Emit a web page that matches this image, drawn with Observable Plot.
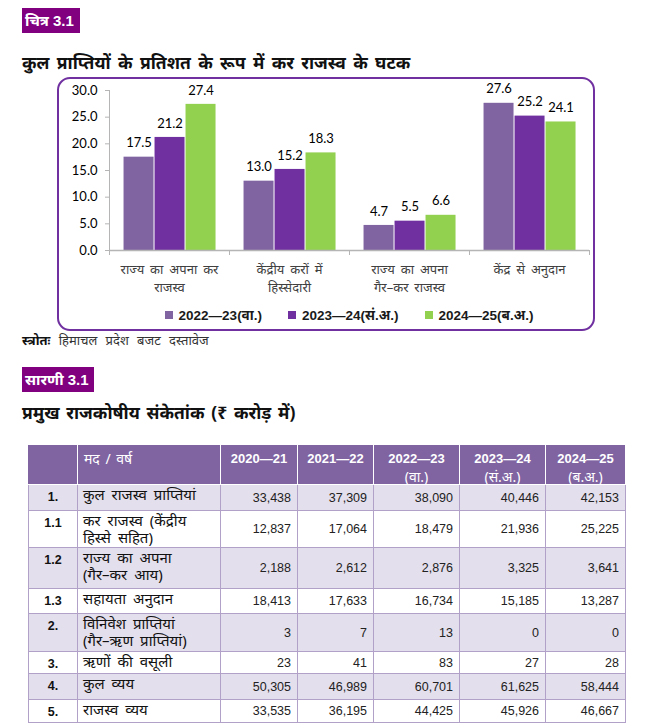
<!DOCTYPE html>
<html>
<head>
<meta charset="utf-8">
<script src="https://cdn.jsdelivr.net/npm/d3@7"></script>
<script src="https://cdn.jsdelivr.net/npm/@observablehq/plot@0.6"></script>
<style>
  html, body { margin: 0; padding: 0; background: #fff; }
  body { position: relative; width: 649px; height: 725px; overflow: hidden; font-family: "Noto Sans", "Liberation Sans", sans-serif; color: #111; }
  .tag { position: absolute; background: #800080; color: #fff; font-family: "Liberation Sans", "Noto Sans", sans-serif; font-weight: bold; font-size: 15px; height: 25px; line-height: 25px; padding: 0 3px; box-sizing: border-box; white-space: nowrap; }
  .title { position: absolute; left: 22px; font-weight: bold; font-size: 17.5px; word-spacing: 2.8px; white-space: nowrap; color: #111; }
  #frame { position: absolute; left: 57px; top: 77px; width: 538px; height: 254px; border: 2px solid #7030A0; border-radius: 13px; box-sizing: border-box; }
  #chart { position: absolute; left: 57px; top: 77px; }
  #chart svg text { word-spacing: 2.5px; }
  #legend { position: absolute; left: 109px; width: 480px; top: 306px; display: flex; justify-content: center; gap: 26px; font-family: "Liberation Sans", "Noto Sans", sans-serif; font-weight: bold; font-size: 13.5px; color: #1a1a1a; }
  #legend .item { display: flex; align-items: center; gap: 6px; white-space: nowrap; }
  #legend .sw { width: 8px; height: 8px; display: inline-block; }
  #source { position: absolute; left: 22px; top: 331px; font-size: 13px; word-spacing: 5px; color: #333; white-space: nowrap; }
  #source b { color: #111; }
  table { position: absolute; left: 28px; top: 445px; border-collapse: collapse; table-layout: fixed; font-family: "Liberation Sans", "Noto Sans", sans-serif; }
  td, th { border: 1px solid #B1A0C7; padding: 0; overflow: hidden; }
  th { background: #8064A2; color: #fff; border-color: #fff; border-top-color: #8064A2; vertical-align: top; font-size: 13px; font-weight: bold; line-height: 15px; padding-top: 5px; text-align: center; }
  th.item { text-align: left; padding-left: 6px; font-weight: normal; font-family: "Noto Sans", sans-serif; font-size: 14px; word-spacing: 2px; }
  th .note { font-weight: normal; font-family: "Noto Sans", "Liberation Sans", sans-serif; font-size: 14px; margin-top: 3px; line-height: 15px; }
  td.num { text-align: center; vertical-align: top; font-weight: bold; font-size: 12.5px; padding-top: 5px; }
  td.lbl { text-align: left; vertical-align: top; font-size: 15px; line-height: 17px; word-spacing: 3px; padding-left: 5px; padding-top: 1px; white-space: pre; font-family: "Noto Sans", sans-serif; }
  td.val { text-align: right; vertical-align: middle; font-size: 12.5px; padding-right: 6px; color: #222; }
  tr.band td { background: #E4DFEC; }
</style>
</head>
<body>
<div class="tag" style="left:22px; top:8px; width:58px;">चित्र 3.1</div>
<div class="title" style="top:50px;">कुल प्राप्तियों के प्रतिशत के रूप में कर राजस्व के घटक</div>
<div id="frame"></div>
<div id="chart"></div>
<div id="legend"></div>
<div id="source"><b>स्त्रोतः</b> हिमाचल प्रदेश बजट दस्तावेज</div>
<div class="tag" style="left:22px; top:367px; width:72px;">सारणी 3.1</div>
<div class="title" style="top:400px; word-spacing: 2.2px;">प्रमुख राजकोषीय संकेतांक (₹ करोड़ में)</div>
<div id="tablewrap"></div>
<script>
// ---------- chart data ----------
const categories = ["राज्य का अपना कर राजस्व", "केंद्रीय करों में हिस्सेदारी", "राज्य का अपना गैर–कर राजस्व", "केंद्र से अनुदान"];
const categoryLabels = ["राज्य का अपना कर\nराजस्व", "केंद्रीय करों में\nहिस्सेदारी", "राज्य का अपना\nगैर–कर राजस्व", "केंद्र से अनुदान"];
const series = ["2022—23(वा.)", "2023—24(सं.अ.)", "2024—25(ब.अ.)"];
const values2022_23 = [17.5, 13.0, 4.7, 27.6];
const values2023_24 = [21.2, 15.2, 5.5, 25.2];
const values2024_25 = [27.4, 18.3, 6.6, 24.1];
const yTicks = [0, 5, 10, 15, 20, 25, 30];

// ---------- table data ----------
const tableYears = ["2020—21", "2021—22", "2022—23", "2023—24", "2024—25"];
const tableYearNotes = ["", "", "(वा.)", "(सं.अ.)", "(ब.अ.)"];
const rowNumbers = ["1.", "1.1", "1.2", "1.3", "2.", "3.", "4.", "5."];
const rowItems = ["कुल राजस्व प्राप्तियां", "कर राजस्व (केंद्रीय\nहिस्से सहित)", "राज्य का अपना\n(गैर–कर आय)", "सहायता अनुदान", "विनिवेश प्राप्तियां\n(गैर–ऋण प्राप्तियां)", "ऋणों की वसूली", "कुल व्यय", "राजस्व व्यय"];
const col2020_21 = [33438, 12837, 2188, 18413, 3, 23, 50305, 33535];
const col2021_22 = [37309, 17064, 2612, 17633, 7, 41, 46989, 36195];
const col2022_23 = [38090, 18479, 2876, 16734, 13, 83, 60701, 44425];
const col2023_24 = [40446, 21936, 3325, 15185, 0, 27, 61625, 45926];
const col2024_25 = [42153, 25225, 3641, 13287, 0, 28, 58444, 46667];

// ---------- styles / layout ----------
const seriesColors = ["#8064A2", "#7030A0", "#92D050"];
const groupPad = 0.117, barW = 0.2583;
const colWidths = [49, 143, 77, 76, 86, 86, 80];
const headerHeight = 39;
const rowHeights = [26, 37, 41, 25, 38, 22, 26, 23];

// ---------- chart ----------
const seriesValues = [values2022_23, values2023_24, values2024_25];
const bars = categories.flatMap((c, i) => series.map((s, j) => ({
  category: c, series: s, value: seriesValues[j][i],
  x1: i + groupPad + j * barW, x2: i + groupPad + (j + 1) * barW
})));

const chart = Plot.plot({
  width: 538, height: 225,
  marginLeft: 52, marginRight: 6, marginTop: 13, marginBottom: 52,
  style: { fontFamily: "Lato, 'Noto Sans', sans-serif", fontSize: "13px", background: "transparent", color: "#000", overflow: "visible" },
  x: { domain: [0, categories.length], axis: null },
  y: { domain: [0, 30], axis: null },
  color: { domain: series, range: seriesColors },
  marks: [
    Plot.rectY(bars, { x1: "x1", x2: "x2", y: "value", fill: "series", insetLeft: 0.5, insetRight: 0.5 }),
    Plot.ruleY([0], { stroke: "#b5b5b5", strokeWidth: 1.5 }),
    Plot.ruleX([0], { stroke: "#b5b5b5", strokeWidth: 1 }),
    Plot.axisY({ ticks: yTicks, tickFormat: d => d.toFixed(1), tickSize: 4, tickPadding: 8, stroke: "#b5b5b5", fill: "#000", fontSize: 13, label: null }),
    Plot.axisX({ ticks: d3.range(categories.length + 1), tickSize: 5, tickFormat: () => "", stroke: "#b5b5b5", label: null }),
    Plot.axisX({ ticks: d3.range(categories.length).map(i => i + 0.5), tickSize: 0, tickPadding: 10, tickFormat: v => categoryLabels[Math.floor(v)], lineHeight: 1.42, fill: "#404040", fontSize: 13, fontFamily: "'Noto Sans', sans-serif", label: null }),
    Plot.text(bars, { x: d => (d.x1 + d.x2) / 2, y: "value", text: d => d.value.toFixed(1), dy: -14, fontSize: 13, fill: "#000" })
  ]
});
document.getElementById("chart").append(chart);

// legend
const legend = d3.select("#legend");
series.forEach((s, j) => {
  const it = legend.append("div").attr("class", "item");
  it.append("span").attr("class", "sw").style("background", seriesColors[j]);
  it.append("span").text(s);
});

// ---------- table ----------
const cols = [col2020_21, col2021_22, col2022_23, col2023_24, col2024_25];
const fmt = d3.format(",");
const table = d3.select("#tablewrap").append("table");
table.style("width", d3.sum(colWidths) + "px");
const cg = table.append("colgroup");
colWidths.forEach(w => cg.append("col").style("width", w + "px"));
const hr = table.append("tr").style("height", headerHeight + "px");
hr.append("th").style("border-left-color", "#8064A2");
hr.append("th").attr("class", "item").text("मद / वर्ष");
tableYears.forEach((y, k) => {
  const th = hr.append("th");
  th.append("div").text(y);
  if (tableYearNotes[k]) th.append("div").attr("class", "note").text(tableYearNotes[k]);
});
rowNumbers.forEach((n, r) => {
  const tr = table.append("tr").style("height", rowHeights[r] + "px").classed("band", r % 2 === 0);
  tr.append("td").attr("class", "num").text(n);
  tr.append("td").attr("class", "lbl").text(rowItems[r]);
  cols.forEach(c => tr.append("td").attr("class", "val").text(fmt(c[r])));
});
</script>
</body>
</html>
